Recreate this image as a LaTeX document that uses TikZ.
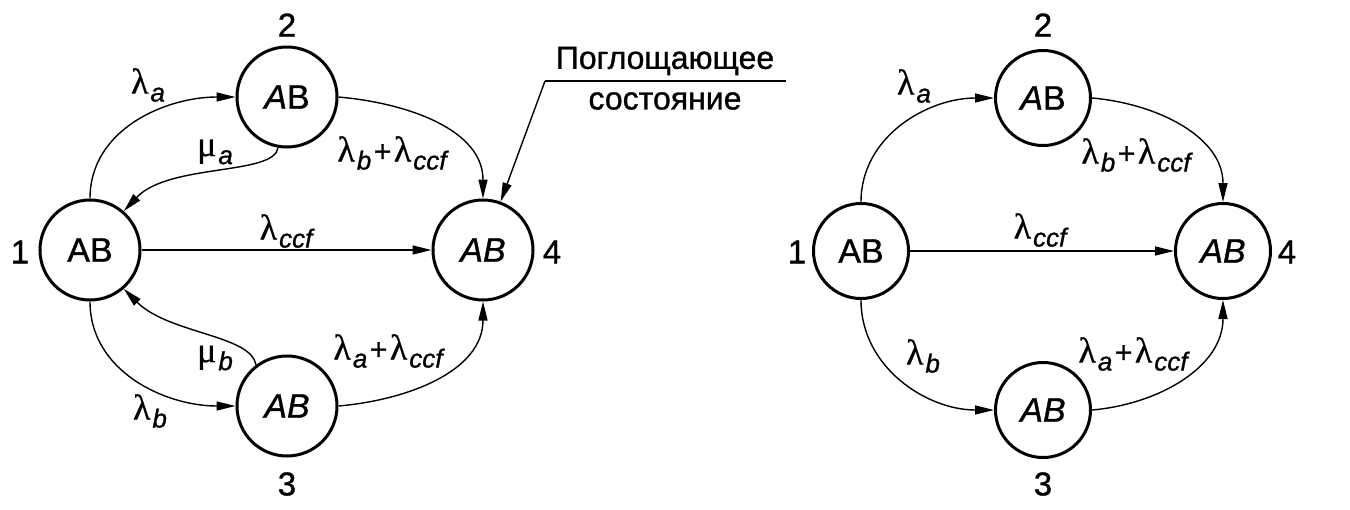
\documentclass[tikz,border=0pt]{standalone}
\usepackage{fontspec}
\setmainfont{Liberation Sans}[FakeBold=1]
\newfontfamily\grk{Liberation Serif}[FakeBold=0.6]
\usetikzlibrary{arrows.meta}
\newcommand\lsub[2]{{\grk\fontsize{36}{36}\selectfont #1}\kern2pt\raisebox{-8pt}{\fontsize{26}{26}\selectfont\itshape #2}}
\newcommand\plus{\kern2.5pt+\kern2.5pt}
\begin{document}
\begin{tikzpicture}[x=1pt,y=1pt,
  st/.style={circle,draw,line width=3pt,minimum size=100pt,inner sep=0pt,font=\fontsize{34}{34}\selectfont},
  stR/.style={st,minimum size=95pt},
  tr/.style={line width=1.4pt,-{Triangle[length=19pt,width=9pt]}},
  num/.style={font=\fontsize{33}{33}\selectfont,inner sep=0pt},
  lab/.style={font=\fontsize{30}{30}\selectfont,inner sep=0pt},
  ann/.style={font=\fontsize{32}{32}\selectfont,inner sep=0pt}]
\useasboundingbox (0,0) rectangle (1350,-509);

% ---------- left diagram ----------
\node[st] (a1) at (90,-250) {AB};
\node[st] (a2) at (287,-97) {\textit{A}B};
\node[st] (a3) at (287,-406) {\textit{AB}};
\node[st] (a4) at (483,-250) {\textit{AB}};

\node[num] (na1) at (20,-252) {1};
\node[num] (na2) at (287,-25) {2};
\node[num] (na3) at (287,-484) {3};
\node[num] (na4) at (552,-252) {4};

\draw[tr] (a1.north) to[out=90,in=180] (a2.west);
\draw[tr] (a2.260) .. controls +(-4,-28) and +(45,48) .. (a1.49);
\draw[tr] (a1.south) to[out=-90,in=180] (a3.west);
\draw[tr] (a3.127) .. controls +(-5,30) and +(45,-45) .. (a1.-49);
\draw[tr] (a2.east) to[out=-5,in=90] (a4.north);
\draw[tr] (a3.east) to[out=5,in=-90] (a4.south);
\draw[tr] (a1.east) -- (a4.west);

\node[lab] (la12) at (148,-85) {\lsub{λ}{a}};
\node[lab] (la21) at (215,-152) {\lsub{μ}{a}};
\node[lab] (la13) at (150,-411) {\lsub{λ}{b}};
\node[lab] (la31) at (215,-358) {\lsub{μ}{b}};
\node[lab] (la24) at (392,-153) {\lsub{λ}{b}\plus\lsub{λ}{ccf}};
\node[lab] (la14) at (286,-231) {\lsub{λ}{ccf}};
\node[lab] (la34) at (388,-351) {\lsub{λ}{a}\plus\lsub{λ}{ccf}};

\node[ann] (t1) at (665,-61) {Поглощающее};
\node[ann] (t2) at (665,-101) {состояние};
\coordinate (u1) at (545,-81);
\coordinate (u2) at (786,-81);
\draw[line width=1.4pt] (u2) -- (u1);
\draw[tr] (u1) -- (a4.70);

% ---------- right diagram ----------
\node[stR] (b1) at (861,-251) {AB};
\node[stR] (b2) at (1043,-98) {\textit{A}B};
\node[stR] (b3) at (1043,-410) {\textit{AB}};
\node[stR] (b4) at (1223,-251) {\textit{AB}};

\node[num] (nb1) at (797,-252) {1};
\node[num] (nb2) at (1043,-25) {2};
\node[num] (nb3) at (1043,-484) {3};
\node[num] (nb4) at (1287,-252) {4};

\draw[tr] (b1.north) to[out=90,in=180] (b2.west);
\draw[tr] (b1.south) to[out=-90,in=180] (b3.west);
\draw[tr] (b2.east) to[out=-5,in=90] (b4.north);
\draw[tr] (b3.east) to[out=5,in=-90] (b4.south);
\draw[tr] (b1.east) -- (b4.west);

\node[lab] (lb12) at (914,-86) {\lsub{λ}{a}};
\node[lab] (lb13) at (923,-356) {\lsub{λ}{b}};
\node[lab] (lb24) at (1136,-155) {\lsub{λ}{b}\plus\lsub{λ}{ccf}};
\node[lab] (lb14) at (1040,-230) {\lsub{λ}{ccf}};
\node[lab] (lb34) at (1133,-354) {\lsub{λ}{a}\plus\lsub{λ}{ccf}};
\end{tikzpicture}
\end{document}
